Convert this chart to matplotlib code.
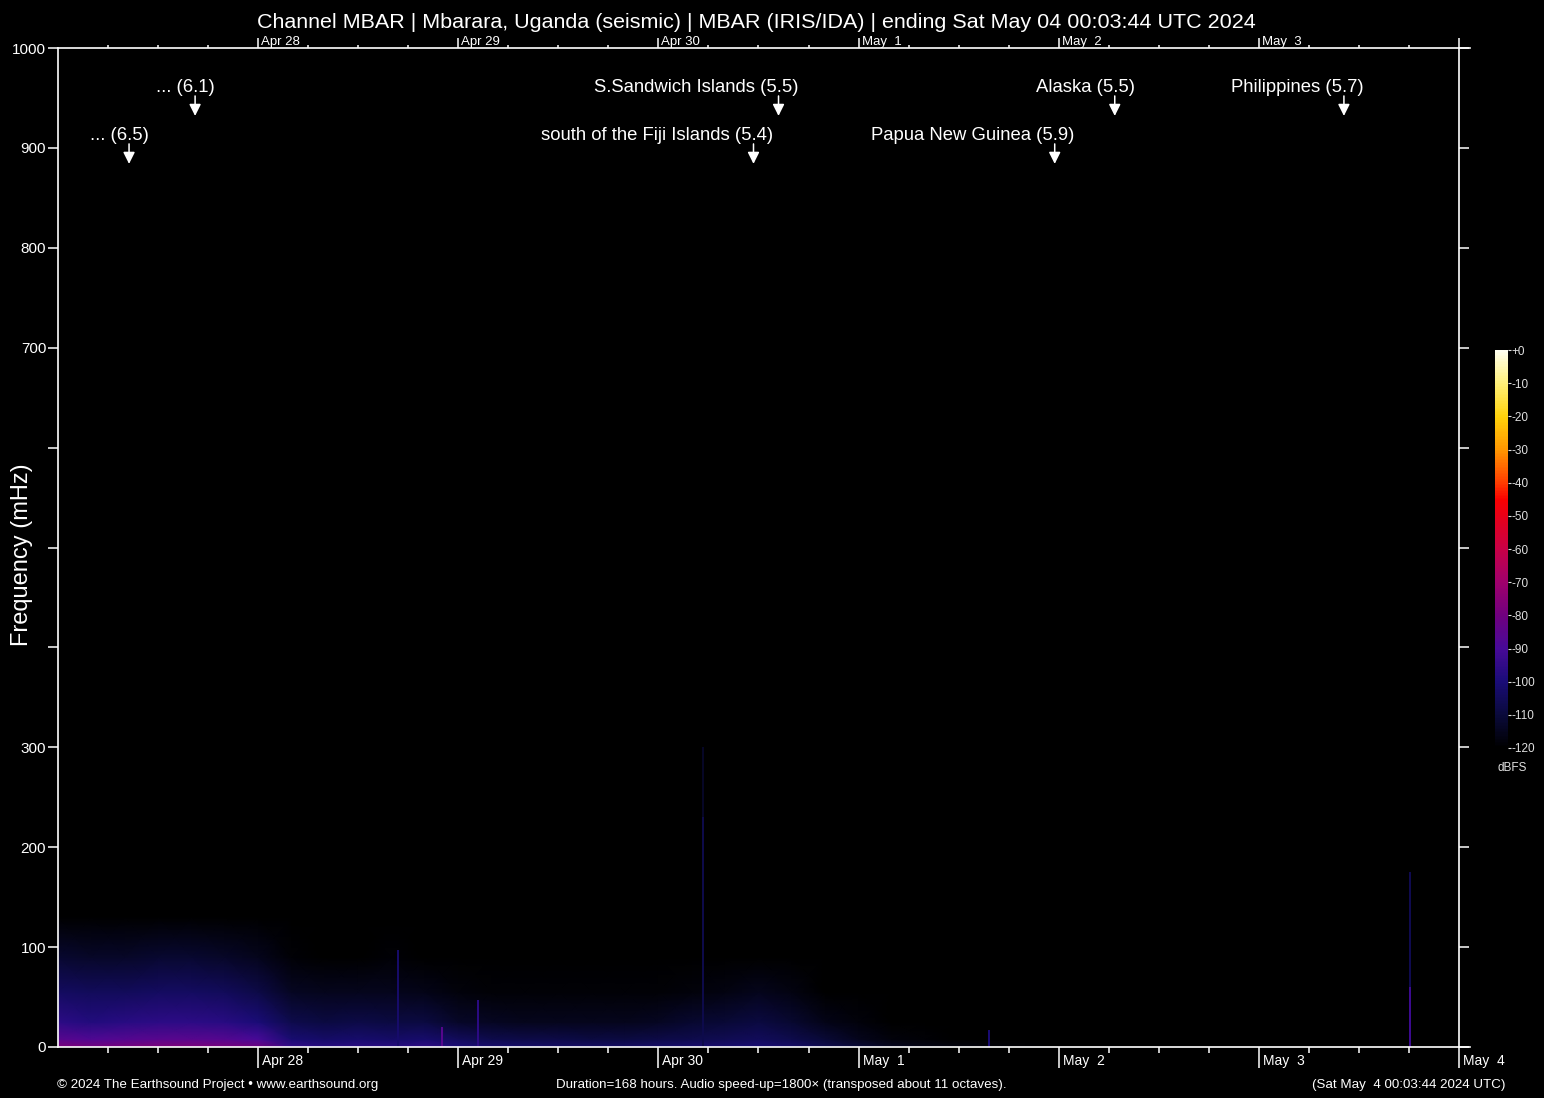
import numpy as np
import matplotlib.pyplot as plt
from matplotlib import transforms
from matplotlib.cm import ScalarMappable
from matplotlib.colors import LinearSegmentedColormap, Normalize

plt.rcParams['font.family'] = ['Liberation Sans', 'DejaVu Sans']

# ---- texts ----
title = ('Channel MBAR | Mbarara, Uganda (seismic) | MBAR (IRIS/IDA) | '
         'ending Sat May 04 00:03:44 UTC 2024')
footer_left = '\u00a9 2024 The Earthsound Project \u2022 www.earthsound.org'
footer_mid = 'Duration=168 hours. Audio speed-up=1800\u00d7 (transposed about 11 octaves).'
footer_right = '(Sat May  4 00:03:44 2024 UTC)'

# ---- axes (hours since Apr 27 00:03:44 UTC) ----
day_hours = [24, 48, 72, 96, 120, 144, 168]
day_labels = ['Apr 28', 'Apr 29', 'Apr 30', 'May  1', 'May  2', 'May  3', 'May  4']
minor_hours = [6, 12, 18, 30, 36, 42, 54, 60, 66, 78, 84, 90,
               102, 108, 114, 126, 132, 138, 150, 156, 162]
freq_ticks = [0, 100, 200, 300, 400, 500, 600, 700, 800, 900, 1000]
freq_labels = ['0', '100', '200', '300', '', '', '', '700', '800', '900', '1000']

# ---- spectrogram levels (dBFS) read at 4-hour nodes, one row per frequency ----
time_nodes = [0, 4, 8, 12, 16, 20, 24, 28, 32, 36, 40, 44, 48, 52, 56, 60, 64, 68,
              72, 76, 80, 84, 88, 92, 96, 100, 104, 108, 112, 116, 120, 124, 128,
              132, 136, 140, 144, 148, 152, 156, 160, 164, 168]
freq_nodes = [0, 8, 25, 55, 90, 130]
level_0mhz = [-77, -79, -78, -77, -77, -78,
              -80, -94, -97, -96, -97, -95,
              -99, -101, -102, -103, -103, -103,
              -102, -101, -101, -100, -102, -106,
              -110, -114, -116, -117, -118, -119,
              -120, -120, -120, -120, -120, -120,
              -120, -120, -120, -120, -120, -120, -120]
level_8mhz = [-86, -88, -87, -86, -86, -87,
              -90, -101, -103, -102, -103, -102,
              -105, -107, -108, -108, -109, -109,
              -108, -107, -106, -105, -107, -111,
              -115, -118, -119, -120, -120, -120,
              -120, -120, -120, -120, -120, -120,
              -120, -120, -120, -120, -120, -120, -120]
level_25mhz = [-96, -98, -97, -96, -96, -97,
               -100, -107, -109, -108, -109, -109,
               -113, -114, -115, -115, -115, -115,
               -114, -112, -111, -109, -112, -116,
               -118, -120, -120, -120, -120, -120,
               -120, -120, -120, -120, -120, -120,
               -120, -120, -120, -120, -120, -120, -120]
level_55mhz = [-104, -105, -105, -104, -104, -105,
               -108, -114, -115, -115, -115, -116,
               -118, -119, -119, -119, -119, -119,
               -119, -118, -117, -115, -117, -120,
               -120, -120, -120, -120, -120, -120,
               -120, -120, -120, -120, -120, -120,
               -120, -120, -120, -120, -120, -120, -120]
level_90mhz = [-112, -113, -113, -112, -112, -113,
               -115, -119, -120, -120, -119, -120,
               -120, -120, -120, -120, -120, -120,
               -120, -120, -120, -120, -120, -120,
               -120, -120, -120, -120, -120, -120,
               -120, -120, -120, -120, -120, -120,
               -120, -120, -120, -120, -120, -120, -120]
level_130mhz = [-120, -120, -120, -120, -120, -120,
                -120, -120, -120, -120, -120, -120,
                -120, -120, -120, -120, -120, -120,
                -120, -120, -120, -120, -120, -120,
                -120, -120, -120, -120, -120, -120,
                -120, -120, -120, -120, -120, -120,
                -120, -120, -120, -120, -120, -120, -120]

# narrow vertical streaks
spike_hours = [40.8, 46.0, 50.4, 77.3, 77.3, 111.6, 162.1, 162.1]
spike_tops = [97, 20, 47, 300, 230, 17, 175, 60]
spike_db = [-102, -86, -96, -113, -107, -100, -106, -92]

# ---- events ----
event_labels = ['... (6.5)', '... (6.1)', 'S.Sandwich Islands (5.5)',
                'south of the Fiji Islands (5.4)', 'Papua New Guinea (5.9)',
                'Alaska (5.5)', 'Philippines (5.7)']
event_hours = [8.52, 16.44, 86.4, 83.4, 119.52, 126.72, 154.2]
event_row = [2, 1, 1, 2, 2, 1, 1]

# colormap like the dBFS bar
cb_levels = [-120, -110, -100, -90, -80, -70, -60, -50, -45, -40, -30, -20, -10, 0]
cb_colors = ['#000000', '#0a0a3c', '#1a0c78', '#480a98', '#70007e', '#a0006c',
             '#c80046', '#e80018', '#fa0000', '#ff3c00', '#ff9600', '#ffd20a',
             '#fff078', '#fffff0']
cmap = LinearSegmentedColormap.from_list(
    'dbfs', list(zip([(v + 120) / 120 for v in cb_levels], cb_colors)))
norm = Normalize(-120, 0)

fig = plt.figure(figsize=(15.44, 10.98), dpi=100, facecolor='black')
W, H = 1544, 1098
ax = fig.add_axes([58 / W, 1 - 1047 / H, 1401 / W, 999 / H], facecolor='black')

grid = np.array([level_0mhz, level_8mhz, level_25mhz, level_55mhz,
                 level_90mhz, level_130mhz])
ax.pcolormesh(time_nodes, freq_nodes, grid, cmap=cmap, norm=norm, shading='gouraud')
ax.vlines(spike_hours, 0, spike_tops, colors=cmap(norm(np.array(spike_db))), lw=1.4)

ax.set_xlim(0, 168)
ax.set_ylim(0, 1000)
for s in ax.spines.values():
    s.set_color('white')
    s.set_linewidth(1.2)

ax.set_yticks(freq_ticks)
ax.set_yticklabels(freq_labels)
ax.tick_params(axis='y', which='both', left=True, right=True, direction='out',
               length=7.5, width=1.1, color='white', labelcolor='white',
               labelsize=11, pad=1)

# bottom ticks
ax.set_xticks(day_hours)
ax.set_xticks(minor_hours, minor=True)
ax.set_xticklabels([])
ax.tick_params(axis='x', which='major', direction='out', length=15, width=1.1,
               color='white')
ax.tick_params(axis='x', which='minor', direction='out', length=4, width=1.1,
               color='white')
# top ticks
top = ax.secondary_xaxis('top')
top.set_xticks(day_hours)
top.set_xticks(minor_hours, minor=True)
top.set_xticklabels([])
top.spines['top'].set_visible(False)
top.tick_params(axis='x', which='major', direction='out', length=7.5, width=1.1,
                color='white')
top.tick_params(axis='x', which='minor', direction='out', length=2.5, width=1.1,
                color='white')

# day labels next to the ticks
tb = transforms.blended_transform_factory(ax.transData, ax.transAxes)
for h, lab in zip(day_hours, day_labels):
    ax.text(h, 0, lab, transform=tb + transforms.ScaledTranslation(4 / 100, -14 / 100, fig.dpi_scale_trans),
            ha='left', va='center', color='white', fontsize=10)
    if h < 168:
        ax.text(h, 1, lab, transform=tb + transforms.ScaledTranslation(3 / 100, 6 / 100, fig.dpi_scale_trans),
                ha='left', va='center', color='white', fontsize=9.5)

# axis lines running past the right spine
ax.plot([1, 1.008], [0, 0], transform=ax.transAxes, color='white', lw=1.2, clip_on=False)
ax.plot([1, 1.008], [1, 1], transform=ax.transAxes, color='white', lw=1.2, clip_on=False)

# event markers
row_text_y = {1: 960, 2: 912}
row_tail = {1: 952, 2: 904}
row_tip = {1: 932, 2: 884}
for lab, h, r in zip(event_labels, event_hours, event_row):
    ax.annotate('', xy=(h, row_tip[r]), xytext=(h, row_tail[r]),
                arrowprops=dict(arrowstyle='-|>,head_length=0.7,head_width=0.35',
                                color='white', lw=1.1, shrinkA=0, shrinkB=0))
    ax.text(h, row_text_y[r], lab, color='white', fontsize=13.3, ha='right', va='center',
            transform=ax.transData + transforms.ScaledTranslation(20 / 100, 0, fig.dpi_scale_trans))

fig.text(22 / W, 1 - 555 / H, 'Frequency (mHz)', rotation=90, color='white',
         fontsize=17, ha='center', va='center')
fig.text(756 / W, 1 - 23 / H, title, color='white', fontsize=15.45, ha='center', va='center')
fig.text(57 / W, 1 - 1085 / H, footer_left, color='white', fontsize=9.6, ha='left', va='center')
fig.text(781 / W, 1 - 1085 / H, footer_mid, color='white', fontsize=9.6, ha='center', va='center')
fig.text(1506 / W, 1 - 1085 / H, footer_right, color='white', fontsize=9.6, ha='right', va='center')

# colour bar
cax = fig.add_axes([1495 / W, 1 - 748 / H, 13 / W, 398 / H])
cb = fig.colorbar(ScalarMappable(norm=norm, cmap=cmap), cax=cax)
cb.outline.set_visible(False)
cb_ticks = [0, -10, -20, -30, -40, -50, -60, -70, -80, -90, -100, -110, -120]
cb.set_ticks(cb_ticks)
cb.set_ticklabels(['+0'] + [str(v) for v in cb_ticks[1:]])
cax.tick_params(colors='#e0e0e0', labelsize=8.5, length=2, width=0.8, pad=0.5)
fig.text(1512 / W, 1 - 768 / H, 'dBFS', color='#e0e0e0', fontsize=8.5, ha='center', va='center')

fig.savefig('out.png', dpi=100, facecolor='black')
